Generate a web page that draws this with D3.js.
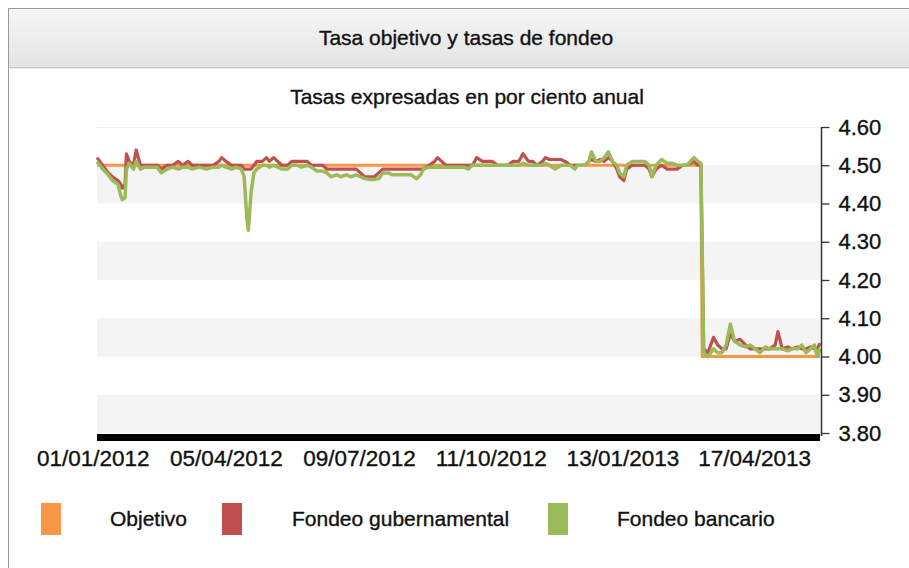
<!DOCTYPE html>
<html>
<head>
<meta charset="utf-8">
<script src="https://cdn.jsdelivr.net/npm/d3@7"></script>
<style>
  body { margin: 0; background: #fff; font-family: "Liberation Sans", Arial, sans-serif; }
  svg { display: block; }
  svg text { stroke: #111; stroke-width: 0.35px; }
</style>
</head>
<body>
<svg id="chart" width="909" height="568"></svg>
<script>
/* ================================
   DATA
================================ */
const dates = [
  "2012-01-04","2012-01-06","2012-01-08","2012-01-12","2012-01-15","2012-01-19","2012-01-21","2012-01-22",
  "2012-01-24","2012-01-25","2012-01-27","2012-01-30","2012-02-01","2012-02-04","2012-02-07","2012-02-12",
  "2012-02-16","2012-02-19","2012-02-23","2012-02-27","2012-03-02","2012-03-05","2012-03-09","2012-03-12",
  "2012-03-17","2012-03-22","2012-03-27","2012-03-31","2012-04-02","2012-04-05","2012-04-09","2012-04-12",
  "2012-04-16","2012-04-18","2012-04-20","2012-04-21","2012-04-23","2012-04-25","2012-04-27","2012-05-01",
  "2012-05-04","2012-05-06","2012-05-09","2012-05-12","2012-05-15","2012-05-19","2012-05-22","2012-05-26",
  "2012-05-29","2012-06-02","2012-06-05","2012-06-09","2012-06-13","2012-06-16","2012-06-19","2012-06-23",
  "2012-06-26","2012-06-30","2012-07-03","2012-07-07","2012-07-10","2012-07-13","2012-07-17","2012-07-20",
  "2012-07-23","2012-07-26","2012-07-30","2012-08-02","2012-08-07","2012-08-11","2012-08-15","2012-08-19",
  "2012-08-22","2012-08-24","2012-08-28","2012-09-01","2012-09-03","2012-09-06","2012-09-09","2012-09-13",
  "2012-09-18","2012-09-22","2012-09-25","2012-09-28","2012-10-01","2012-10-05","2012-10-08","2012-10-12",
  "2012-10-16","2012-10-20","2012-10-23","2012-10-27","2012-10-31","2012-11-03","2012-11-07","2012-11-10",
  "2012-11-13","2012-11-17","2012-11-19","2012-11-22","2012-11-26","2012-11-30","2012-12-03","2012-12-07",
  "2012-12-10","2012-12-12","2012-12-17","2012-12-20","2012-12-22","2012-12-25","2012-12-28","2012-12-31",
  "2013-01-03","2013-01-06","2013-01-09","2013-01-11","2013-01-14","2013-01-16","2013-01-20","2013-01-24",
  "2013-01-29","2013-02-01","2013-02-03","2013-02-06","2013-02-10","2013-02-14","2013-02-18","2013-02-21",
  "2013-02-25","2013-02-28","2013-03-05","2013-03-08","2013-03-10","2013-03-12","2013-03-15","2013-03-19",
  "2013-03-22","2013-03-25","2013-03-28","2013-03-31","2013-04-03","2013-04-07","2013-04-11","2013-04-14",
  "2013-04-18","2013-04-21","2013-04-25","2013-04-28","2013-05-02","2013-05-04","2013-05-07","2013-05-11",
  "2013-05-14","2013-05-18","2013-05-21","2013-05-24","2013-05-27","2013-05-30","2013-06-01","2013-06-03"
];

const gubernamental = [
  4.52,4.51,4.50,4.48,4.47,4.46,4.45,4.44, 4.45,4.53,4.51,4.50,4.54,4.50,4.50,4.50,
  4.50,4.49,4.50,4.50,4.51,4.50,4.51,4.50, 4.50,4.50,4.50,4.51,4.52,4.51,4.50,4.50,
  4.50,4.49,4.49,4.49,4.49,4.50,4.51,4.51, 4.52,4.51,4.52,4.51,4.50,4.50,4.51,4.51,
  4.51,4.51,4.50,4.50,4.50,4.49,4.49,4.49, 4.49,4.49,4.49,4.49,4.48,4.47,4.47,4.47,
  4.48,4.49,4.49,4.49,4.49,4.49,4.49,4.49, 4.49,4.49,4.50,4.51,4.52,4.51,4.50,4.50,
  4.50,4.50,4.50,4.50,4.52,4.51,4.51,4.51, 4.50,4.50,4.50,4.51,4.51,4.53,4.51,4.51,
  4.50,4.51,4.52,4.515,4.515,4.515,4.51,4.50, 4.50,4.50,4.50,4.51,4.515,4.51,4.515,4.51,
  4.52,4.51,4.49,4.47,4.46,4.49,4.50,4.50, 4.50,4.49,4.47,4.49,4.50,4.49,4.49,4.49,
  4.50,4.50,4.51,4.50,4.50,4.02,4.01,4.05, 4.03,4.02,4.02,4.06,4.04,4.045,4.03,4.02,
  4.02,4.02,4.02,4.02,4.03,4.065,4.02,4.025, 4.02,4.025,4.02,4.02,4.025,4.02,4.02,4.035
];

const bancario = [
  4.51,4.50,4.49,4.475,4.46,4.45,4.42,4.41, 4.415,4.49,4.505,4.49,4.51,4.49,4.495,4.495,
  4.495,4.48,4.49,4.495,4.49,4.495,4.495,4.49, 4.495,4.49,4.495,4.495,4.50,4.495,4.49,4.495,
  4.49,4.47,4.36,4.33,4.43,4.48,4.49,4.50, 4.50,4.495,4.50,4.495,4.49,4.49,4.50,4.50,
  4.495,4.50,4.495,4.485,4.485,4.48,4.47,4.475, 4.47,4.475,4.47,4.475,4.47,4.465,4.463,4.463,
  4.465,4.48,4.48,4.475,4.475,4.475,4.475,4.465, 4.475,4.49,4.495,4.495,4.495,4.495,4.495,4.495,
  4.495,4.495,4.49,4.50,4.50,4.50,4.50,4.50, 4.50,4.50,4.50,4.50,4.50,4.505,4.50,4.50,
  4.50,4.50,4.505,4.50,4.49,4.50,4.50,4.50, 4.49,4.50,4.50,4.51,4.535,4.51,4.51,4.52,
  4.535,4.51,4.50,4.48,4.47,4.50,4.51,4.51, 4.51,4.50,4.47,4.50,4.515,4.505,4.505,4.50,
  4.50,4.50,4.52,4.51,4.505,4.01,4.00,4.02, 4.01,4.01,4.03,4.085,4.04,4.03,4.025,4.03,
  4.02,4.01,4.025,4.02,4.02,4.02,4.02,4.015, 4.02,4.02,4.03,4.01,4.02,4.03,4.00,4.02
];

const objetivoDates = ["2012-01-04", "2013-03-10", "2013-03-11", "2013-06-03"];
const objetivo = [4.50, 4.50, 4.00, 4.00];

const xTickDates = ["2012-01-01", "2012-04-05", "2012-07-09", "2012-10-11", "2013-01-13", "2013-04-17"];
const yTicks = [3.80, 3.90, 4.00, 4.10, 4.20, 4.30, 4.40, 4.50, 4.60];

const seriesNames = ["Objetivo", "Fondeo gubernamental", "Fondeo bancario"];
const seriesColors = ["#f79646", "#c0504d", "#9bbb59"];

/* ================================
   SCALES
================================ */
const parse = d3.timeParse("%Y-%m-%d");
const fmtDate = d3.timeFormat("%d/%m/%Y");

const svg = d3.select("#chart");

const plotL = 97, plotR = 820, plotT = 127, plotB = 433;

const x = d3.scaleTime()
  .domain([parse("2012-01-04"), parse("2013-06-03")])
  .range([plotL, plotR]);

const y = d3.scaleLinear()
  .domain([3.80, 4.60])
  .range([plotB, plotT]);

/* ================================
   FRAME + HEADER
================================ */
const grad = svg.append("defs").append("linearGradient")
  .attr("id", "hdr").attr("x1", 0).attr("x2", 0).attr("y1", 0).attr("y2", 1);
grad.append("stop").attr("offset", "0%").attr("stop-color", "#f6f6f6");
grad.append("stop").attr("offset", "100%").attr("stop-color", "#e4e4e4");

svg.append("rect")
  .attr("x", 8.5).attr("y", 8.5)
  .attr("width", 940).attr("height", 600)
  .attr("fill", "#fff")
  .attr("stroke", "#9a9a9a");

svg.append("rect")
  .attr("x", 9).attr("y", 9)
  .attr("width", 940).attr("height", 58)
  .attr("fill", "url(#hdr)");

svg.append("line")
  .attr("x1", 9).attr("x2", 909)
  .attr("y1", 67.5).attr("y2", 67.5)
  .attr("stroke", "#c8c8c8");
svg.append("line")
  .attr("x1", 9).attr("x2", 909)
  .attr("y1", 68.5).attr("y2", 68.5)
  .attr("stroke", "#ececec");

svg.append("text")
  .attr("x", 466).attr("y", 45)
  .attr("text-anchor", "middle")
  .attr("font-size", 21)
  .attr("fill", "#111")
  .text("Tasa objetivo y tasas de fondeo");

svg.append("text")
  .attr("x", 467).attr("y", 104)
  .attr("text-anchor", "middle")
  .attr("font-size", 21)
  .attr("fill", "#111")
  .text("Tasas expresadas en por ciento anual");

/* ================================
   BANDS
================================ */
const bands = d3.pairs(yTicks).filter((p, i) => i % 2 === 0);

svg.append("g").selectAll("rect")
  .data(bands)
  .join("rect")
  .attr("x", plotL)
  .attr("width", plotR - plotL)
  .attr("y", d => y(d[1]))
  .attr("height", d => y(d[0]) - y(d[1]))
  .attr("fill", "#f4f4f4");

svg.append("line")
  .attr("x1", plotL).attr("x2", plotR)
  .attr("y1", plotT + 0.5).attr("y2", plotT + 0.5)
  .attr("stroke", "#ededed");

/* ================================
   LINES
================================ */
const line = d3.line()
  .x(d => x(d.date))
  .y(d => y(d.v));

const objData = objetivoDates.map((d, i) => ({ date: parse(d), v: objetivo[i] }));
const gubData = dates.map((d, i) => ({ date: parse(d), v: gubernamental[i] }));
const banData = dates.map((d, i) => ({ date: parse(d), v: bancario[i] }));

[objData, gubData, banData].forEach((data, i) => {
  svg.append("path")
    .datum(data)
    .attr("fill", "none")
    .attr("stroke", seriesColors[i])
    .attr("stroke-width", i === 2 ? 3.5 : 3.2)
    .attr("stroke-linejoin", "round")
    .attr("d", line);
});

/* ================================
   AXES
================================ */
svg.append("rect")
  .attr("x", plotL).attr("y", plotB + 1)
  .attr("width", plotR - plotL).attr("height", 7)
  .attr("fill", "#000");

const yAxis = svg.append("g")
  .attr("transform", `translate(${plotR + 1.5},0)`)
  .call(d3.axisRight(y).tickValues(yTicks).tickSize(8).tickPadding(9).tickFormat(d3.format(".2f")));

yAxis.select(".domain").attr("stroke", "#333").attr("stroke-width", 1.5).attr("d", `M0,${plotT}V${plotB + 3}`);
yAxis.selectAll(".tick line").attr("stroke", "#333").attr("stroke-width", 1.3);
yAxis.selectAll("text")
  .attr("font-size", 22)
  .attr("font-family", "Liberation Sans, Arial, sans-serif")
  .attr("fill", "#111");

const xAxis = svg.append("g")
  .attr("transform", "translate(0,450)")
  .call(d3.axisBottom(x).tickValues(xTickDates.map(parse)).tickSize(0).tickPadding(0).tickFormat(fmtDate));

xAxis.select(".domain").remove();
xAxis.selectAll("text")
  .attr("font-size", 22.5)
  .attr("font-family", "Liberation Sans, Arial, sans-serif")
  .attr("fill", "#111");

/* ================================
   LEGEND
================================ */
const legendSwatchX = [41, 222, 548];
const legendTextX = [110, 292, 617];

const legend = svg.append("g");
seriesNames.forEach((name, i) => {
  legend.append("rect")
    .attr("x", legendSwatchX[i]).attr("y", 503)
    .attr("width", 20).attr("height", 32)
    .attr("fill", seriesColors[i]);
  legend.append("text")
    .attr("x", legendTextX[i]).attr("y", 526)
    .attr("font-size", 21)
    .attr("fill", "#111")
    .text(name);
});
</script>
</body>
</html>
